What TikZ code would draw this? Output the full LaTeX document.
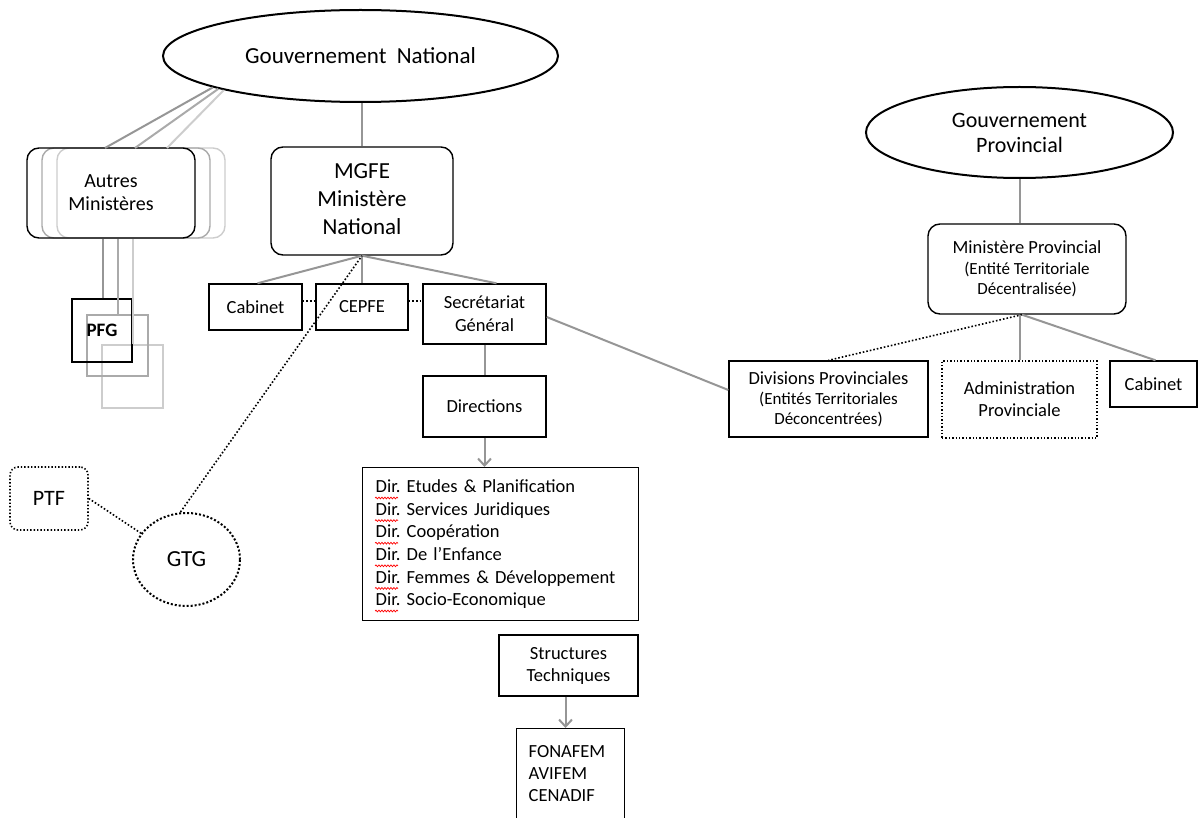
\documentclass[tikz,border=0pt]{standalone}
\usepackage{fontspec}
\setmainfont{Carlito}
\usetikzlibrary{shapes.geometric,arrows.meta,calc,decorations.pathmorphing}
\newcommand\fs[2]{\fontsize{#1}{#2}\selectfont}
\definecolor{cgray}{RGB}{150,150,150}
\definecolor{cmid}{RGB}{170,170,170}
\definecolor{clight}{RGB}{205,205,205}
\frenchspacing
\begin{document}
\begin{tikzpicture}[x=1pt,y=-1pt,
  box/.style={draw, line width=1.4pt, rectangle, inner sep=0pt, align=center, font=\fs{18.5}{23}},
  rbox/.style={box, rounded corners=12pt},
  ell/.style={draw, ellipse, line width=2pt, inner sep=0pt, align=center},
  conn/.style={draw=cgray, line width=2pt},
  dotline/.style={line width=1.6pt, dotted},
  squig/.style={red, line width=0.7pt, decorate, decoration={snake, amplitude=0.9pt, segment length=3pt}},
  arr/.style={conn, -{Straight Barb[length=7pt,width=13pt]}}]
\useasboundingbox (0,0) rectangle (1200,818);

% ---- national government
\node[ell, minimum width=395, minimum height=92, font=\fs{23}{27}] (gn) at (360.5,56) {Gouvernement\ \ National};
\node[rbox, minimum width=182, minimum height=108, font=\fs{23}{27.5}] (mgfe) at (362,201) {\raisebox{-10pt}{\begin{tabular}{@{}c@{}}MGFE\\[0.5pt]Minist\`ere\\[0.5pt]National\end{tabular}}};

% ---- autres ministeres (stack)
\node[rbox, draw=clight, minimum width=168, minimum height=90] (am3) at (141,193) {};
\node[rbox, draw=cmid, minimum width=168, minimum height=90] (am2) at (126,193) {};
\node[rbox, minimum width=168, minimum height=90, font=\fs{20}{23}] (am1) at (111,193) {Autres\\Minist\`eres};

% ---- PFG (stack)
\node[box, draw=clight, minimum width=61, minimum height=63] (pfg3) at (132.5,376.5) {};
\node[box, draw=cmid, minimum width=61, minimum height=61] (pfg2) at (117.5,345.5) {};
\node[box, minimum width=60, minimum height=63, font=\fs{19}{22}\bfseries] (pfg1) at (102,330.5) {PFG};

\coordinate (a1) at (105,148);
\coordinate (a2) at (135,148);
\coordinate (a3) at (167,148);
\draw[conn, draw=clight] (gn.194) -- (a3);
\draw[conn, draw=cmid] (gn.193) -- (a2);
\draw[conn] (gn.192) -- (a1);

\draw[conn, draw=clight] (pfg3.north -| 133,0) -- (am1.south -| 133,0);
\draw[conn, draw=cmid] (pfg2.north -| 118,0) -- (am1.south -| 118,0);
\draw[conn] (pfg1.north -| 103,0) -- (am1.south -| 103,0);

% ---- under MGFE
\node[box, minimum width=93, minimum height=46] (cab) at (255.5,307) {Cabinet};
\node[box, minimum width=92, minimum height=46] (cepfe) at (362,307) {CEPFE};
\node[box, minimum width=123, minimum height=60] (sg) at (484.5,314) {Secr\'etariat\\G\'en\'eral};
\node[box, minimum width=123, minimum height=61] (dirs) at (484.5,406.5) {Directions};
\node[box, anchor=north west, text width=250, inner xsep=13pt, minimum height=153, align=left, font=\fs{18.5}{22.6}] (list) at (362,467)
  {Dir. Etudes \& Planification\\
   Dir. Services Juridiques\\
   Dir. Coop\'eration\\
   Dir. De l'Enfance\\
   Dir. Femmes \& D\'eveloppement\\
   Dir. Socio-Economique};
\foreach \k in {0,...,5}
  \draw[squig] ($(list.north west)+(13,31+22.6*\k)$) -- ++(23,0);
\node[box, minimum width=139, minimum height=61, font=\fs{18.5}{22}] (st) at (568.5,665.5) {Structures\\Techniques};
\begin{scope}
\clip (0,0) rectangle (1200,818);
\node[box, anchor=north west, minimum width=108, minimum height=112, text width=84, inner xsep=12pt, align=left, font=\fs{18.5}{22}] (fona) at (516,728)
  {FONAFEM\\AVIFEM\\CENADIF\\\mbox{}};
\end{scope}

\draw[conn] (gn.south -| mgfe.north) -- (mgfe.north);
\coordinate (sgtop) at ($(sg.north)+(12,0)$);
\coordinate (cabtop) at ($(cab.north)+(2,0)$);
\draw[conn] (mgfe.south) -- (cabtop);
\draw[conn] (mgfe.south) -- (cepfe.north);
\draw[conn] (mgfe.south) -- (sgtop);
\draw[dotline] ([yshift=6pt]cab.east) -- ([yshift=6pt]cepfe.west);
\draw[dotline] ([yshift=6pt]cepfe.east) -- ([yshift=6pt]cepfe.east -| sg.west);
\draw[conn] (sg.south) -- (dirs.north);
\draw[arr] (dirs.south) -- (dirs.south |- list.north);
\draw[arr] ($(st.south)+(-3,0)$) -- ($(st.south |- fona.north)+(-3,0)$);

% ---- PTF / GTG
\node[rbox, dotted, line width=1.6pt, rounded corners=8pt, minimum width=78, minimum height=63, font=\fs{22}{24}] (ptf) at (49,498.5) {PTF};
\node[ell, dotted, line width=2pt, minimum width=107, minimum height=93, font=\fs{23}{25}] (gtg) at (186.5,559.5) {GTG};
\draw[dotline] (ptf.east) -- (gtg.150);
\draw[dotline] ($(gtg.north)+(-6,0)$) -- (mgfe.south);

% ---- provincial
\node[ell, minimum width=307, minimum height=91, font=\fs{22}{25}] (gp) at (1019.5,132.5) {Gouvernement\\Provincial};
\node[rbox, minimum width=198, minimum height=90, font=\fs{17}{20.5}] (mp) at (1027,269)
  {{\fs{18.5}{20.5}Minist\`ere Provincial}\\(Entit\'e Territoriale\\D\'ecentralis\'ee)};
\node[box, minimum width=199, minimum height=76, font=\fs{17}{20}] (div) at (828.5,399)
  {{\fs{18.5}{20}Divisions Provinciales}\\(Entit\'es Territoriales\\D\'econcentr\'ees)};
\node[box, dotted, minimum width=155, minimum height=77, font=\fs{18.5}{22}] (adm) at (1019.5,399.5) {Administration\\Provinciale};
\node[box, minimum width=87, minimum height=46] (cab2) at (1153.5,384) {Cabinet};

\draw[conn] (gp.south) -- (gp.south |- mp.north);
\coordinate (mpb) at ($(mp.south)+(-5,0)$);
\draw[dotline] (mpb) -- (div.north);
\draw[conn] (mpb -| adm.north) -- (adm.north);
\draw[conn] (mpb) -- ($(cab2.north)+(2,0)$);
\draw[conn] ([yshift=-3pt]sg.east) -- ([yshift=9pt]div.west);
\end{tikzpicture}
\end{document}
